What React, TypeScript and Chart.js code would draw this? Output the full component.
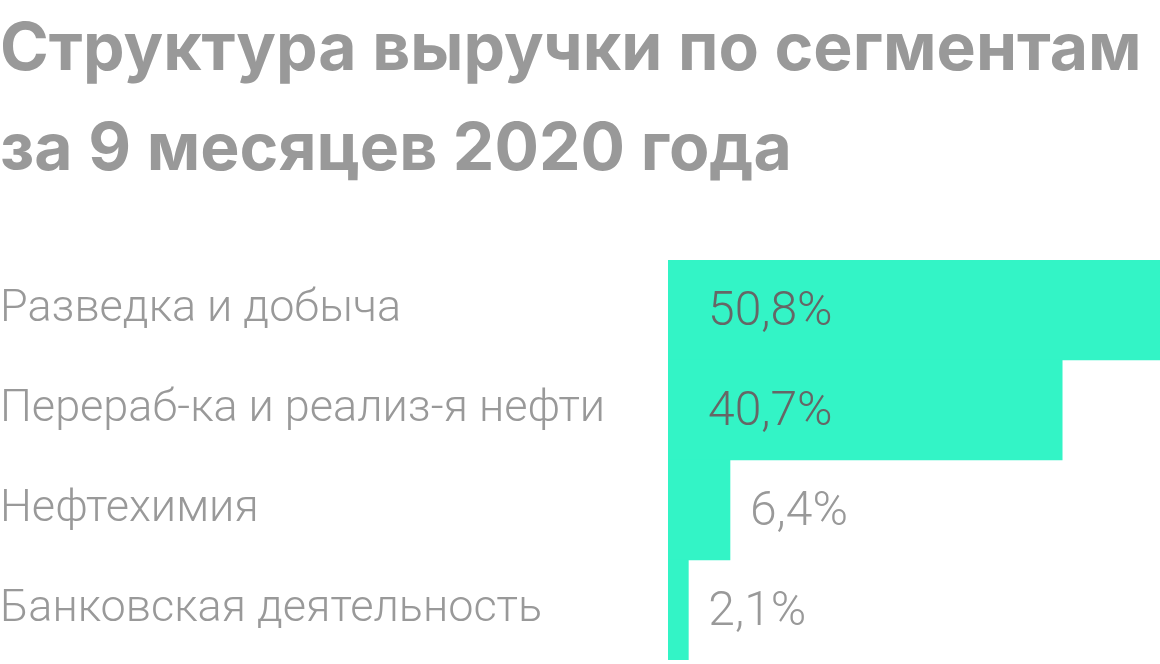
import React, { useEffect, useRef } from "react";
import { Chart, registerables } from "chart.js";

Chart.register(...registerables);

const titleLines = ["Структура выручки по сегментам", "за 9 месяцев 2020 года"];
const categories = [
  "Разведка и добыча",
  "Перераб-ка и реализ-я нефти",
  "Нефтехимия",
  "Банковская деятельность",
];
const values = [50.8, 40.7, 6.4, 2.1];
const valueLabels = ["50,8%", "40,7%", "6,4%", "2,1%"];

const BAR_COLOR = "#33f4c6";
const GREY = "#999999";
const DARK = "#666666";

const labelPlugin = {
  id: "valueLabels",
  afterDatasetsDraw(chart: any) {
    const ctx = chart.ctx;
    const meta = chart.getDatasetMeta(0);
    const area = chart.chartArea;
    ctx.save();
    ctx.font = "300 48px Roboto";
    ctx.textAlign = "left";
    ctx.textBaseline = "alphabetic";
    meta.data.forEach((bar: any, i: number) => {
      const text = valueLabels[i];
      const w = ctx.measureText(text).width;
      const insideX = area.left + 40;
      const fits = insideX + w + 20 < bar.x;
      const x = fits ? insideX : Math.max(insideX, bar.x + 20);
      ctx.fillStyle = fits ? DARK : GREY;
      ctx.fillText(text, x, bar.y + 15);
    });
    ctx.restore();
  },
};

export default function App() {
  const ref = useRef<HTMLCanvasElement | null>(null);
  useEffect(() => {
    document.body.style.margin = "0";
    if (!ref.current) return;
    const chart = new Chart(ref.current, {
      type: "bar",
      data: {
        labels: categories,
        datasets: [
          {
            data: values,
            backgroundColor: BAR_COLOR,
            borderWidth: 0,
            barPercentage: 1,
            categoryPercentage: 1,
          },
        ],
      },
      options: {
        indexAxis: "y",
        animation: false,
        responsive: true,
        maintainAspectRatio: false,
        layout: { padding: { left: 0, right: 0, top: 0, bottom: 4 } },
        plugins: {
          legend: { display: false },
          tooltip: { enabled: false },
          title: {
            display: true,
            text: titleLines,
            align: "start",
            color: GREY,
            font: { family: "Inter", size: 66, weight: "bold", lineHeight: "100px" },
            padding: { top: 0, bottom: 60 },
          },
        },
        scales: {
          x: {
            display: false,
            min: 0,
            max: Math.max(...values),
          },
          y: {
            grid: { display: false },
            border: { display: false },
            ticks: {
              color: GREY,
              font: { family: "Roboto", size: 45, weight: "300" },
              crossAlign: "far",
              padding: 0,
            },
            afterFit(scale: any) {
              scale.width = 668;
              scale.paddingTop = 0;
              scale.paddingBottom = 0;
            },
          },
        },
      },
      plugins: [labelPlugin],
    });
    return () => chart.destroy();
  }, []);
  return (
    <div style={{ position: "absolute", left: 0, top: 0, width: 1160, height: 664 }}>
      <canvas ref={ref} />
    </div>
  );
}
